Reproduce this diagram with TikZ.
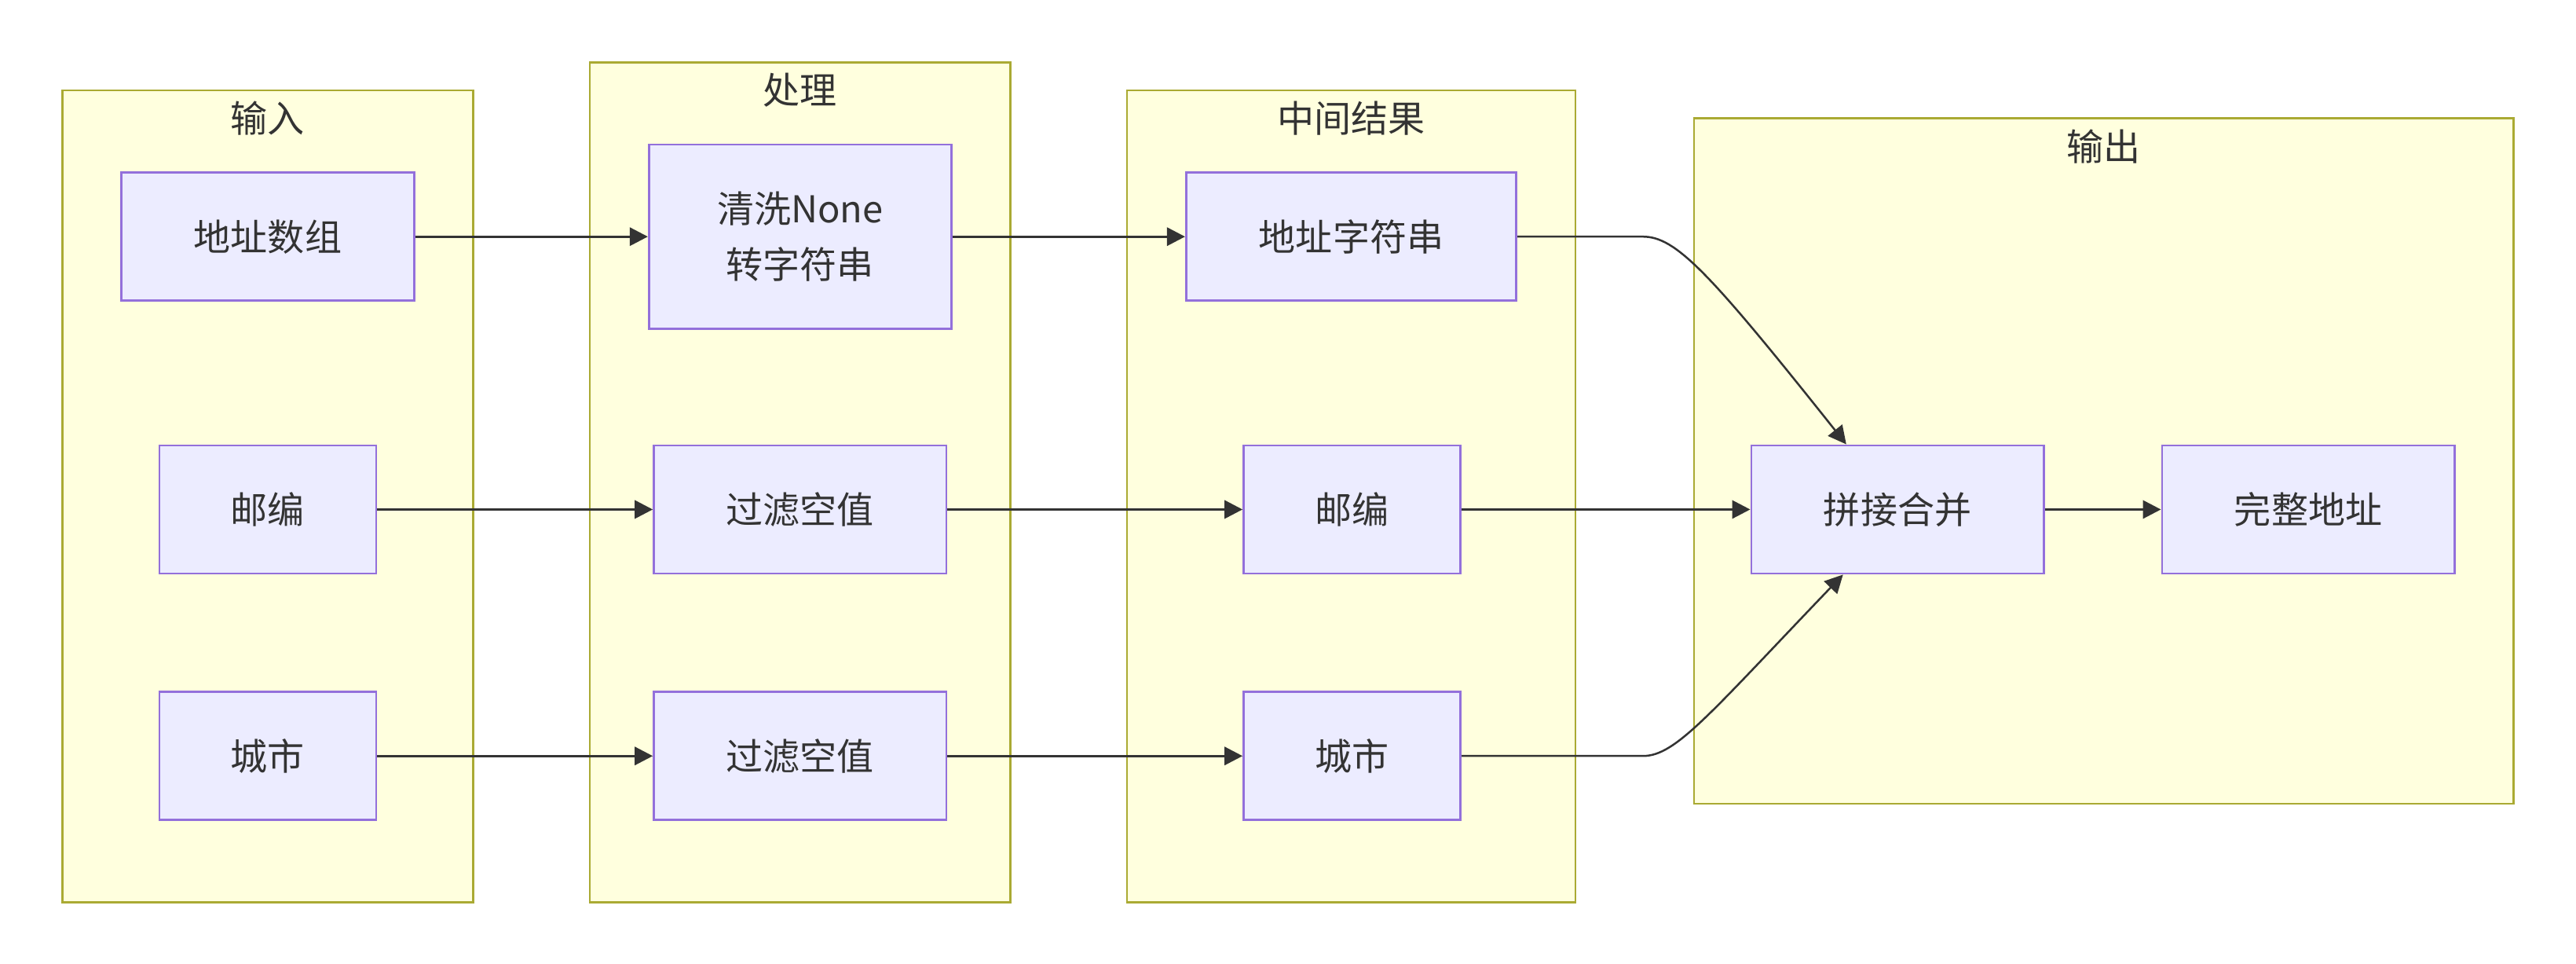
\documentclass[tikz,border=0pt]{standalone}
\usepackage{fontspec}
\setmainfont{Noto Sans CJK SC}
\usetikzlibrary{arrows.meta,calc}
\definecolor{clfill}{HTML}{FFFFDE}
\definecolor{clline}{HTML}{AAAA33}
\definecolor{ndfill}{HTML}{ECECFF}
\definecolor{ndline}{HTML}{9370DB}
\definecolor{txt}{HTML}{333333}
\begin{document}
\begin{tikzpicture}[x=0.5pt,y=-0.5pt,
  cluster/.style={draw=clline,fill=clfill,line width=0.55pt},
  ctitle/.style={text=txt,font=\fontsize{11.25pt}{14pt}\selectfont,inner sep=0pt},
  box/.style={draw=ndline,fill=ndfill,line width=0.65pt,text=txt,align=center,
    font=\fontsize{11.25pt}{16.8pt}\selectfont,inner sep=0pt,minimum height=39pt},
  arr/.style={draw=txt,line width=0.8pt,-{Triangle[length=5.5pt,width=5.5pt]}},
  curv/.style={draw=txt,line width=0.6pt,-{Triangle[length=5.5pt,width=5.5pt]}}]
\useasboundingbox (0,0) rectangle (1568,586.56);
% clusters
\draw[cluster] (38,55) rectangle (288,549);
\draw[cluster] (359,38) rectangle (615,549);
\draw[cluster] (686,55) rectangle (959,549);
\draw[cluster] (1031,72) rectangle (1530,489);
\node[ctitle] (t1) at (163,72) {输入};
\node[ctitle] (t2) at (487,55) {处理};
\node[ctitle] (t3) at (822.5,72) {中间结果};
\node[ctitle] (t4) at (1280.5,89) {输出};
% nodes
\node[box,minimum width=89pt] (a1) at (163,144) {地址数组};
\node[box,minimum width=66pt] (a2) at (163,310) {邮编};
\node[box,minimum width=66pt] (a3) at (163,460) {城市};
\node[box,minimum width=92pt,minimum height=56pt] (b1) at (487,144) {清洗None\\转字符串};
\node[box,minimum width=89pt] (b2) at (487,310) {过滤空值};
\node[box,minimum width=89pt] (b3) at (487,460) {过滤空值};
\node[box,minimum width=100.5pt] (c1) at (822.5,144) {地址字符串};
\node[box,minimum width=66pt] (c2) at (823,310) {邮编};
\node[box,minimum width=66pt] (c3) at (823,460) {城市};
\node[box,minimum width=89pt] (d1) at (1155,310) {拼接合并};
\node[box,minimum width=89pt] (d2) at (1405,310) {完整地址};
% edges
\draw[arr] (a1.east) -- (b1.west);
\draw[arr] (a2.east) -- (b2.west);
\draw[arr] (a3.east) -- (b3.west);
\draw[arr] (b1.east) -- (c1.west);
\draw[arr] (b2.east) -- (c2.west);
\draw[arr] (b3.east) -- (c3.west);
\draw[arr] (c2.east) -- (d1.west);
\draw[arr] (d1.east) -- (d2.west);
\coordinate (k1) at (1000,144);
\coordinate (k3) at (1000,460);
\coordinate (e1) at ($(d1.north west)!0.326!(d1.north east)$);
\coordinate (e3) at ($(d1.south west)!0.315!(d1.south east)$);
\draw[curv] (c1.east) -- (k1) .. controls (1020,144) and (1040,165) .. (e1);
\draw[curv] (c3.east) -- (k3) .. controls (1020,460) and (1040,435) .. (e3);
\end{tikzpicture}
\end{document}
